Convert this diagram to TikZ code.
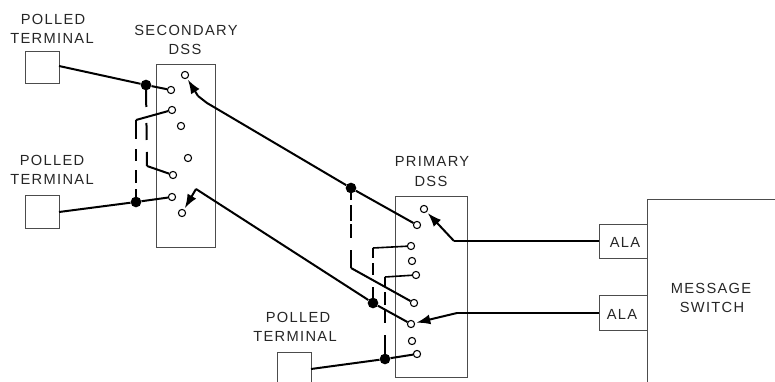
\documentclass[tikz,border=0pt]{standalone}
\usepackage{fontspec}
\setmainfont[LetterSpace=9]{Liberation Sans}
\usetikzlibrary{arrows.meta}
\tikzset{
 x=0.75pt,y=-0.75pt,
 box/.style={draw=black!70,line width=0.75pt,fill=none},
 contact/.style={circle,draw=black,fill=white,line width=0.8pt,minimum size=5.4pt,inner sep=0pt},
 junction/.style={circle,fill=black,minimum size=8pt,inner sep=0pt},
 wire/.style={line width=1.5pt,black},
 thinwire/.style={line width=1.2pt,black},
 link/.style={line width=1.5pt,black},
 arm/.style={line width=1.5pt,black,-{Latex[length=10.5pt,width=7.5pt]},shorten >=1pt},
 lbl/.style={font=\fontsize{11pt}{13pt}\selectfont,text=black!85,inner sep=0pt,anchor=center}
}
\begin{document}
\begin{tikzpicture}
\useasboundingbox (0,0) rectangle (775,382);
% boxes
\draw[box] (25,51) rectangle (59,83);
\draw[box] (25,195) rectangle (59,228);
\draw[box] (277,382) -- (277,352) -- (311,352) -- (311,382);
\draw[box] (156,64) rectangle (215,247);
\draw[box] (395,196) rectangle (467,377);
\draw[box] (647,224) -- (599,224) -- (599,258) -- (647,258);
\draw[box] (647,295) -- (599,295) -- (599,330) -- (647,330);
\draw[box] (647,382) -- (647,199) -- (775,199);
% anchors
\coordinate (t1) at (59,66);
\coordinate (t2) at (59,212);
\coordinate (t3) at (311,369);
\coordinate (ala1) at (599,241);
\coordinate (ala2) at (599,313);
\coordinate (c1) at (147,166);
\coordinate (c2) at (136,120);
\coordinate (c3) at (351,268);
\coordinate (c4) at (373,248);
\coordinate (c5) at (385,277);
\coordinate (b0) at (207,103);
\coordinate (b1) at (198,96);
\coordinate (b2) at (196,189);
\coordinate (b3) at (454,241);
\coordinate (b4) at (457,313);
\coordinate (b5) at (530,313);
% junctions
\node[junction] (j1) at (146,85) {};
\node[junction] (j2) at (136,202) {};
\node[junction] (j3) at (351,188) {};
\node[junction] (j4) at (373,303) {};
\node[junction] (j5) at (385,359) {};
% contacts
\node[contact] (s1) at (185,75) {};
\node[contact] (s2) at (171,90) {};
\node[contact] (s3) at (172,110) {};
\node[contact] (s4) at (181,126) {};
\node[contact] (s5) at (188,158) {};
\node[contact] (s6) at (173,175) {};
\node[contact] (s7) at (172,197) {};
\node[contact] (s8) at (182,213) {};
\node[contact] (p1) at (424,209) {};
\node[contact] (p2) at (417,225) {};
\node[contact] (p3) at (411,246) {};
\node[contact] (p4) at (412,261) {};
\node[contact] (p5) at (416,275) {};
\node[contact] (p6) at (414,303) {};
\node[contact] (p7) at (411,324) {};
\node[contact] (p8) at (412,341) {};
\node[contact] (p9) at (417,354) {};
% wires
\draw[wire] (t1) -- (j1) -- (s2);
\draw[wire] (t2) -- (j2) -- (s7);
\draw[wire] (t3) -- (j5) -- (p9);
\draw[wire] (j3) -- (p2);
\draw[wire] (j4) -- (p7);
\draw[wire] (s3) -- (c2);
\draw[wire] (s6) -- (c1);
\draw[wire] (c3) -- (p6);
\draw[thinwire] (p3) -- (c4);
\draw[thinwire] (p5) -- (c5);
% ganged links
\draw[link,dash pattern=on 16.5pt off 12pt on 12.75pt off 9pt on 10.5pt] (146,85) -- (c1);
\draw[link,dash pattern=on 14.25pt off 7.5pt on 9pt off 6.75pt on 9.75pt off 4.5pt on 9.75pt] (c2) -- (136,202);
\draw[link,dash pattern=on 9pt off 3.75pt on 12pt off 2.25pt on 10.5pt off 9pt on 13.5pt] (351,188) -- (c3);
\draw[link,dash pattern=on 7.5pt off 3.75pt on 9pt off 9pt on 12pt] (c4) -- (373,303);
\draw[link,dash pattern=on 6.75pt off 4.5pt on 9.75pt off 3.75pt on 9.75pt off 9pt on 18pt] (c5) -- (385,359);
% switch arms
\draw[wire] (j3) -- (b0) -- (b1);
\draw[arm] (b1) -- (s1);
\draw[wire] (j4) -- (b2);
\draw[arm] (b2) -- (s8);
\draw[wire] (ala1) -- (b3);
\draw[arm] (b3) -- (p1);
\draw[wire] (ala2) -- (b5) -- (b4);
\draw[arm] (b4) -- (p7);
% labels
\node[lbl] (l1) at (53,19) {POLLED};
\node[lbl] (l2) at (52,38) {TERMINAL};
\node[lbl] (l3) at (52,160) {POLLED};
\node[lbl] (l4) at (52,179) {TERMINAL};
\node[lbl] (l5) at (186,30) {SECONDARY};
\node[lbl] (l6) at (185,49) {DSS};
\node[lbl] (l7) at (298,317) {POLLED};
\node[lbl] (l8) at (295,336) {TERMINAL};
\node[lbl] (l9) at (432,161) {PRIMARY};
\node[lbl] (l10) at (431,181) {DSS};
\node[lbl] (a1) at (625,242) {ALA};
\node[lbl] (a2) at (622,314) {ALA};
\node[lbl] (m1) at (711,288) {MESSAGE};
\node[lbl] (m2) at (712,307) {SWITCH};
\end{tikzpicture}
\end{document}
